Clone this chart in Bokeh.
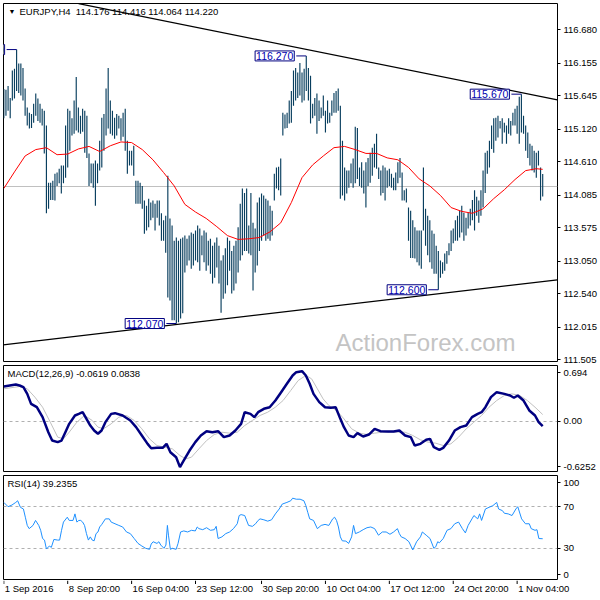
from bokeh.plotting import figure
from bokeh.models import Range1d, LinearAxis, FixedTicker, Label, ColumnDataSource, CustomJSTickFormatter
from bokeh.layouts import column
from bokeh.embed import file_html
from bokeh.resources import INLINE
from bokeh.core.properties import value

# ---------------- data (EURJPY H4) ----------------
highs = [
    115.75, 115.74, 115.80, 115.61, 116.04, 116.07, 116.37, 116.15, 116.15, 116.08,
    115.76, 115.46, 115.38, 115.36, 115.52, 115.68, 115.60, 115.52, 115.44, 115.41,
    115.18, 114.28, 114.28, 114.31, 114.42, 114.44, 114.50, 114.55, 114.55, 115.18,
    115.44, 115.41, 115.29, 115.57, 115.94, 115.46, 115.33, 115.44, 115.41, 115.33,
    114.74, 114.58, 114.58, 114.63, 114.58, 114.94, 115.30, 115.36, 115.76, 116.08,
    115.57, 115.41, 115.30, 115.36, 115.33, 115.29, 115.38, 115.44, 114.94, 114.78,
    114.78, 114.86, 114.31, 114.31, 114.28, 114.23, 114.00, 113.92, 114.03, 113.97,
    114.00, 113.95, 114.00, 114.00, 113.80, 113.69, 113.76, 114.39, 113.72, 113.61,
    113.37, 113.42, 113.37, 113.40, 113.42, 113.45, 113.40, 113.45, 113.50, 113.48,
    113.53, 113.61, 113.56, 113.45, 113.53, 113.50, 113.37, 113.40, 113.29, 113.34,
    113.42, 113.29, 113.06, 113.14, 113.25, 113.42, 113.37, 113.21, 113.29, 113.37,
    113.58, 113.95, 114.19, 114.12, 114.19, 113.61, 114.12, 113.65, 113.56, 113.97,
    114.05, 114.11, 114.08, 114.03, 114.00, 113.92, 113.84, 114.42, 114.52, 114.53,
    114.66, 115.38, 115.35, 115.38, 115.57, 115.72, 116.04, 116.08, 116.01, 116.16,
    116.01, 116.07, 116.27, 116.08, 115.96, 115.52, 115.61, 115.68, 115.57, 115.46,
    115.65, 115.41, 115.57, 115.38, 115.57, 115.69, 115.72, 115.76, 115.49, 114.94,
    114.52, 114.47, 114.47, 114.58, 114.66, 115.16, 115.14, 114.52, 114.60, 114.47,
    114.60, 114.67, 114.75, 114.83, 114.89, 115.05, 114.52, 114.47, 114.55, 114.52,
    114.47, 114.50, 114.42, 114.36, 114.44, 114.60, 114.67, 114.44, 114.16, 114.19,
    113.89, 113.84, 113.69, 113.58, 113.53, 113.53, 113.53, 114.52, 113.87, 113.76,
    113.69, 113.53, 113.48, 113.29, 113.21, 113.06, 113.03, 113.17, 113.21, 113.33,
    113.53, 113.56, 113.69, 113.76, 113.84, 113.92, 113.81, 113.73, 113.81, 113.87,
    114.01, 114.16, 114.06, 114.00, 114.16, 114.47, 114.75, 114.78, 114.94, 115.18,
    115.29, 115.30, 115.33, 115.25, 115.29, 115.22, 115.18, 115.29, 115.25, 115.38,
    115.44, 115.49, 115.63, 115.67, 115.33, 115.18, 115.07, 114.89, 114.86, 114.78,
    114.75, 114.78, 114.52, 114.416,
]
lows = [
    115.29, 115.33, 115.41, 115.29, 115.57, 115.60, 115.72, 115.69, 115.65, 115.57,
    115.33, 115.18, 115.13, 115.14, 115.22, 115.33, 115.25, 115.22, 115.18, 114.74,
    113.80, 113.87, 114.01, 114.01, 114.00, 114.23, 114.27, 114.11, 114.27, 114.36,
    114.52, 114.78, 115.02, 115.05, 115.10, 115.07, 115.05, 115.08, 114.75, 114.67,
    114.23, 114.27, 114.20, 113.92, 114.27, 114.47, 114.52, 114.78, 115.02, 115.13,
    115.05, 115.02, 114.97, 115.02, 115.13, 114.94, 115.00, 114.78, 114.42, 114.55,
    114.55, 114.39, 113.95, 113.95, 113.95, 113.87, 113.48, 113.53, 113.58, 113.69,
    113.73, 113.53, 113.73, 113.61, 113.37, 113.37, 113.18, 112.48, 112.43, 112.12,
    112.12, 112.07, 112.09, 112.15, 112.23, 112.87, 112.98, 113.06, 112.93, 112.98,
    113.06, 113.03, 112.90, 113.14, 113.03, 112.90, 112.98, 112.85, 112.70, 112.79,
    112.95, 112.70, 112.24, 112.46, 112.54, 112.67, 112.90, 112.54, 112.59, 112.70,
    112.87, 113.06, 113.14, 113.21, 113.21, 113.17, 113.14, 112.59, 112.87, 112.98,
    113.21, 113.37, 113.45, 113.37, 113.40, 113.37, 113.45, 114.00, 114.19, 114.16,
    114.08, 115.02, 115.13, 115.14, 115.21, 115.22, 115.49, 115.57, 115.61, 115.65,
    115.54, 115.57, 115.72, 115.57, 115.21, 115.29, 115.33, 115.05, 115.25, 115.29,
    115.33, 115.07, 115.21, 115.22, 115.33, 115.38, 115.38, 115.41, 114.03, 114.08,
    114.00, 114.11, 114.20, 114.27, 114.20, 114.27, 114.34, 114.23, 114.20, 114.11,
    113.89, 114.23, 114.28, 114.39, 114.52, 114.50, 114.34, 114.08, 114.12, 114.00,
    114.20, 114.23, 114.20, 114.16, 114.16, 114.27, 114.36, 114.00, 114.00, 113.97,
    113.37, 113.10, 113.10, 113.09, 113.03, 112.98, 112.93, 113.53, 113.29, 113.14,
    113.03, 112.93, 112.85, 112.85, 112.60, 112.79, 112.85, 112.90, 113.01, 113.14,
    113.21, 113.33, 113.37, 113.37, 113.42, 113.50, 113.37, 113.45, 113.56, 113.61,
    113.69, 113.53, 113.76, 113.65, 113.76, 113.89, 114.12, 114.42, 114.52, 114.81,
    114.75, 114.94, 114.99, 115.13, 114.89, 115.07, 114.89, 115.05, 115.02, 115.18,
    115.18, 115.05, 114.89, 115.07, 115.05, 114.78, 114.67, 114.55, 114.47, 114.44,
    114.36, 114.55, 114.00, 114.064,
]
bar_idx = list(range(len(highs)))

ma_idx = list(range(0, 251, 5)) + [253]
ma_val = [
    114.19, 114.45, 114.70, 114.80, 114.83, 114.72, 114.73, 114.81, 114.85, 114.77,
    114.86, 114.92, 114.91, 114.80, 114.64, 114.44, 114.23, 113.94, 113.82, 113.72,
    113.59, 113.45, 113.39, 113.40, 113.42, 113.51, 113.65, 113.97, 114.36, 114.56,
    114.70, 114.83, 114.85, 114.80, 114.74, 114.74, 114.67, 114.64, 114.52, 114.34,
    114.23, 114.08, 113.89, 113.83, 113.80, 113.87, 114.03, 114.17, 114.33, 114.47,
    114.50, 114.49,
]

macd_idx = [0, 5.6, 7.4, 9.2, 11.0, 12.8, 15.5, 18.2, 20.9, 22.7,
            25.3, 27.1, 28.9, 30.7, 33.4, 35.2, 37.0, 38.8, 40.6, 42.4,
            44.2, 45.9, 47.7, 50.4, 52.2, 55.8, 59.4, 62.1, 64.8, 67.5,
            69.2, 71.9, 74.6, 76.4, 78.2, 80.9, 82.7, 84.5, 87.2, 89.9,
            92.5, 95.2, 97.9, 100.6, 103.3, 106.0, 108.7, 111.4, 113.1, 115.8,
            117.6, 119.4, 122.1, 124.8, 127.5, 130.2, 132.9, 135.6, 137.3, 140.0,
            141.8, 143.6, 145.4, 148.1, 150.8, 153.5, 155.8, 158.0, 159.7, 161.9,
            164.2, 166.0, 168.7, 171.4, 174.1, 176.8, 180.4, 183.0, 185.7, 188.4,
            191.1, 192.9, 195.6, 198.3, 200.1, 201.9, 204.5, 206.3, 209.0, 211.7,
            214.4, 217.1, 219.8, 222.5, 224.3, 226.1, 228.7, 231.4, 235.0, 237.7,
            239.5, 241.3, 244.0, 246.7, 249.4, 251.1, 253]
macd_val = [0.433, 0.458, 0.445, 0.424, 0.341, 0.217, 0.175, 0.051, -0.136, -0.240,
            -0.260, -0.240, -0.136, -0.032, 0.072, 0.092, 0.113, 0.030, -0.053, -0.115,
            -0.156, -0.115, -0.011, 0.092, 0.101, 0.072, 0.010, -0.073, -0.177, -0.281,
            -0.335, -0.331, -0.331, -0.281, -0.385, -0.447, -0.571, -0.488, -0.364, -0.260,
            -0.177, -0.123, -0.136, -0.123, -0.198, -0.177, -0.115, -0.032, 0.113, 0.092,
            0.051, 0.113, 0.155, 0.175, 0.258, 0.362, 0.466, 0.570, 0.611, 0.623,
            0.570, 0.466, 0.341, 0.238, 0.175, 0.167, 0.175, 0.030, -0.073, -0.177,
            -0.198, -0.148, -0.190, -0.165, -0.094, -0.123, -0.127, -0.127, -0.115, -0.177,
            -0.198, -0.302, -0.281, -0.231, -0.219, -0.323, -0.356, -0.331, -0.240, -0.115,
            -0.073, -0.053, 0.051, 0.092, 0.113, 0.175, 0.300, 0.362, 0.341, 0.321,
            0.292, 0.321, 0.258, 0.134, 0.072, -0.011, -0.062]

sig_idx = [0, 7.4, 11.0, 14.6, 18.2, 21.8, 25.3, 28.0, 30.7, 34.3,
           37.9, 41.5, 44.2, 46.8, 50.4, 54.0, 57.6, 61.2, 64.8, 68.4,
           71.9, 75.5, 79.1, 82.7, 85.4, 88.1, 91.6, 95.2, 98.8, 102.4,
           106.0, 109.6, 113.1, 116.7, 120.3, 123.9, 127.5, 131.1, 134.7, 138.2,
           141.8, 144.5, 147.2, 149.9, 152.6, 156.2, 159.7, 163.3, 166.9, 170.5,
           174.1, 177.7, 181.3, 184.8, 188.4, 192.0, 195.6, 199.2, 202.8, 206.3,
           209.9, 213.5, 217.1, 220.7, 224.3, 227.8, 231.4, 235.0, 238.6, 242.2,
           245.8, 249.4, 253]
sig_val = [0.404, 0.433, 0.404, 0.300, 0.175, -0.011, -0.198, -0.219, -0.136, -0.011,
           0.072, 0.010, -0.073, -0.094, -0.032, 0.051, 0.072, 0.010, -0.094, -0.219,
           -0.302, -0.322, -0.343, -0.426, -0.468, -0.447, -0.343, -0.240, -0.165, -0.136,
           -0.148, -0.136, -0.053, 0.010, 0.072, 0.113, 0.175, 0.258, 0.383, 0.507,
           0.570, 0.528, 0.404, 0.279, 0.196, 0.134, 0.030, -0.094, -0.148, -0.165,
           -0.148, -0.136, -0.136, -0.136, -0.136, -0.177, -0.231, -0.260, -0.273, -0.302,
           -0.281, -0.198, -0.094, -0.011, 0.072, 0.175, 0.258, 0.321, 0.341, 0.321,
           0.258, 0.175, 0.084]

rsi_idx = [0, 2.0, 3.8, 5.6, 6.5, 7.8, 9.2, 10.1, 11.0, 11.9,
           13.7, 14.9, 16.4, 17.3, 18.2, 19.1, 20.0, 21.4, 22.3, 23.5,
           25.3, 26.2, 27.1, 28.0, 29.8, 30.7, 32.5, 33.4, 34.3, 35.2,
           36.1, 37.0, 37.9, 38.8, 39.7, 40.6, 41.5, 42.4, 43.3, 44.2,
           45.0, 45.9, 47.7, 49.5, 50.4, 52.2, 54.0, 55.8, 57.6, 59.4,
           61.2, 63.0, 64.8, 66.6, 68.4, 69.2, 70.1, 71.9, 72.8, 73.7,
           75.2, 76.1, 76.8, 77.3, 78.2, 79.1, 80.9, 81.8, 83.0, 84.5,
           86.3, 88.1, 89.9, 90.8, 91.6, 93.4, 95.2, 97.0, 98.8, 99.7,
           100.6, 102.4, 104.2, 106.0, 107.8, 109.6, 110.5, 111.4, 113.1, 114.9,
           116.7, 118.2, 119.4, 120.3, 122.1, 123.9, 125.7, 127.5, 129.3, 130.7,
           132.9, 134.7, 135.6, 137.3, 139.1, 140.9, 141.8, 142.7, 143.6, 145.4,
           147.2, 149.0, 150.8, 152.6, 154.4, 155.3, 156.2, 157.1, 158.0, 158.9,
           160.6, 161.9, 163.3, 164.2, 165.1, 166.9, 168.7, 170.5, 172.3, 174.1,
           175.9, 177.7, 179.5, 181.3, 183.0, 184.8, 185.7, 186.6, 188.4, 190.2,
           192.0, 193.8, 195.6, 196.5, 198.3, 200.1, 201.9, 202.8, 203.7, 204.5,
           206.3, 208.1, 209.9, 211.7, 213.5, 215.3, 216.7, 218.0, 219.8, 220.7,
           222.5, 223.4, 224.3, 226.1, 227.8, 229.6, 231.4, 232.3, 234.1, 235.0,
           236.8, 238.6, 240.4, 241.3, 243.1, 244.9, 246.7, 247.6, 249.4, 250.3,
           251.2, 253]
rsi_val = [74.1, 70.0, 71.6, 74.1, 75.7, 69.4, 67.8, 59.9, 52.0, 48.9,
           52.0, 56.8, 52.0, 47.3, 39.4, 37.9, 29.3, 32.2, 30.9, 38.5,
           37.9, 37.9, 47.3, 55.2, 59.9, 56.8, 56.8, 63.1, 55.2, 56.8,
           56.8, 55.2, 52.0, 44.1, 37.9, 41.0, 37.9, 37.2, 44.1, 45.7,
           50.5, 52.7, 58.3, 58.3, 55.2, 53.6, 52.0, 50.5, 45.7, 44.1,
           39.4, 34.7, 32.2, 30.0, 29.0, 34.1, 36.3, 34.7, 36.3, 33.1,
           30.0, 33.1, 52.0, 42.6, 29.0, 30.0, 29.0, 34.7, 45.7, 46.7,
           45.7, 47.3, 46.7, 50.5, 48.9, 47.9, 49.8, 47.3, 47.9, 51.1,
           39.4, 41.0, 44.1, 45.7, 48.9, 53.6, 61.5, 62.4, 61.5, 52.0,
           51.1, 53.6, 56.8, 58.3, 57.4, 56.1, 57.4, 63.1, 67.8, 72.5,
           74.1, 75.7, 78.2, 77.2, 77.2, 75.7, 71.0, 64.6, 58.3, 56.8,
           48.9, 52.0, 53.0, 52.0, 58.3, 59.9, 56.8, 50.5, 41.0, 37.2,
           36.9, 34.7, 41.0, 52.0, 44.1, 45.7, 47.9, 49.8, 50.5, 48.9,
           42.6, 45.7, 45.7, 43.5, 45.7, 48.9, 44.1, 41.0, 39.4, 36.3,
           28.4, 36.3, 41.0, 45.7, 42.6, 39.4, 30.0, 31.5, 36.3, 35.3,
           39.4, 47.3, 48.9, 53.6, 55.2, 48.9, 44.8, 52.0, 58.3, 61.5,
           58.3, 63.1, 56.8, 67.8, 69.4, 71.0, 74.1, 67.8, 66.2, 63.7,
           63.1, 61.5, 67.8, 70.0, 58.3, 53.6, 53.6, 48.9, 47.3, 47.9,
           39.4, 39.2]

price_ticks = [116.680, 116.155, 115.645, 115.120, 114.610, 114.085,
               113.575, 113.050, 112.540, 112.015, 111.505]
time_tick_idx = [0, 30, 60, 90, 121, 151, 181, 211, 241]
time_tick_labels = ["1 Sep 2016", "8 Sep 20:00", "16 Sep 04:00", "23 Sep 12:00",
                    "30 Sep 20:00", "10 Oct 04:00", "17 Oct 12:00", "24 Oct 20:00",
                    "1 Nov 04:00"]

swing_idx = [6, 142, 243, 81, 204]
swing_price = [116.37, 116.27, 115.67, 112.07, 112.60]
swing_text = ["116.370", "116.270", "115.670", "112.070", "112.600"]

upper_trend_idx = [35.1, 259.9]
upper_trend_price = [117.09, 115.58]
lower_trend_idx = [-0.3, 259.9]
lower_trend_price = [111.736, 112.755]

symbol = "EURJPY,H4"
last_open, last_high, last_low, last_close = 114.176, 114.416, 114.064, 114.220
macd_last, signal_last = -0.0619, 0.0838
rsi_last = 39.2355
macd_lo, macd_hi = -0.6252, 0.694
rsi_levels = [70, 30]
watermark_idx, watermark_price = 155.7, 111.77

# ---------------- styling / layout ----------------
FONT = "Liberation Sans"
FS = "9.5px"
BAR_COLOR = "#083e5e"
FRAME_W = 554
X0, X1 = -0.15, 259.95
PXB = FRAME_W / (X1 - X0)          # pixels per bar
PRICE_LO, PRICE_HI = 111.474, 117.093

xr = Range1d(X0, X1)


def panel(y_lo, y_hi, fh, top, bottom):
    p = figure(frame_width=FRAME_W, frame_height=fh, x_range=xr,
               y_range=Range1d(y_lo, y_hi), x_axis_location=None,
               y_axis_location=None, toolbar_location=None,
               output_backend="svg", title=None,
               min_border_left=3, min_border_right=0,
               min_border_top=top, min_border_bottom=bottom)
    p.grid.visible = False
    p.outline_line_color = "black"
    p.outline_line_width = 1
    p.background_fill_color = "white"
    p.border_fill_color = "white"
    return p


def right_axis(p, ticks, labels):
    ax = LinearAxis(ticker=FixedTicker(ticks=ticks, minor_ticks=[]),
                    formatter=CustomJSTickFormatter(args=dict(labels=labels),
                                                    code="return labels[index];"))
    ax.axis_line_color = None
    ax.major_tick_in = 0
    ax.major_tick_out = 3
    ax.minor_tick_in = 0
    ax.minor_tick_out = 0
    ax.major_tick_line_color = "black"
    ax.major_label_standoff = 3
    ax.major_label_text_font = FONT
    ax.major_label_text_font_size = FS
    ax.major_label_text_color = "black"
    p.add_layout(ax, "right")


def text_label(p, x, y, txt, xo, yo, size=FS, color="black", **kw):
    p.add_layout(Label(x=x, y=y, x_offset=xo, y_offset=yo, text=txt,
                       text_font=FONT, text_font_size=size, text_color=color,
                       text_baseline=kw.pop("baseline", "middle"), **kw))


# ---- main price panel ----
main = panel(PRICE_LO, PRICE_HI, 358, 3, 4)
main.hspan(y=[last_close], line_color="#c0c0c0", line_width=1)
src = ColumnDataSource(dict(i=bar_idx, high=highs, low=lows))
main.segment(x0="i", y0="low", x1="i", y1="high", source=src,
             line_color=BAR_COLOR, line_width=1.15)
main.line(ma_idx, ma_val, line_color="#ff0000", line_width=1)
main.line(upper_trend_idx, upper_trend_price, line_color="black", line_width=1.2)
main.line(lower_trend_idx, lower_trend_price, line_color="black", line_width=1.2)

conn_gap = 10 / PXB
main.segment(x0=[i - conn_gap for i in swing_idx], y0=swing_price,
             x1=swing_idx, y1=swing_price, line_color="#000080", line_width=1)
for i, pr, t in zip(swing_idx, swing_price, swing_text):
    main.add_layout(Label(x=i, y=pr, x_offset=-12, text=t, text_align="right",
                          text_baseline="middle", text_font=FONT,
                          text_font_size="10.5px", text_color="#0000b0",
                          background_fill_color="white",
                          border_line_color="#000080", border_line_width=1,
                          padding=1))

main.add_layout(Label(x=X1, y=last_close, x_offset=3, text=f"{last_close:.3f}",
                      text_align="left", text_baseline="middle", text_font=FONT,
                      text_font_size=FS, text_color="white",
                      background_fill_color="black", padding=2))

text_label(main, X0, PRICE_HI, "\u25BC", 5, -8, size="7px")
text_label(main, X0, PRICE_HI,
           f"{symbol}\u00a0\u00a0{last_open:.3f} {last_high:.3f} {last_low:.3f} {last_close:.3f}",
           16, -8)
text_label(main, watermark_idx, watermark_price, "ActionForex.com", 0, 0,
           size="24px", color="#c4c4c4", baseline="alphabetic")
right_axis(main, price_ticks, [f"{t:.3f}" for t in price_ticks])

# ---- MACD panel ----
MACD_FH = 106
macd = panel(macd_lo, macd_hi, MACD_FH, 0, 2)
macd.hspan(y=[0], line_color="#b0b0b0", line_width=1, line_dash="3 3")
macd.line(sig_idx, sig_val, line_color="#c0c0c0", line_width=1)
macd.line(macd_idx, macd_val, line_color="#000080", line_width=2.5)
text_label(macd, X0, macd_hi, f"MACD(12,26,9) {macd_last:.4f} {signal_last:.4f}", 4, -8)
upp = (macd_hi - macd_lo) / MACD_FH
right_axis(macd, [macd_hi - 7 * upp, 0.0, macd_lo + 5 * upp],
           [f"{macd_hi:.3f}", "0.00", f"{macd_lo:.4f}"])

# ---- RSI panel ----
RSI_FH = 104
rsi = panel(0, 100, RSI_FH, 2, 1)
rsi.hspan(y=rsi_levels, line_color="#b0b0b0", line_width=1, line_dash="3 3")
rsi.line(rsi_idx, rsi_val, line_color="#1e90ff", line_width=1)
text_label(rsi, X0, 100, f"RSI(14) {rsi_last:.4f}", 4, -8)
upp_r = 100 / RSI_FH
right_axis(rsi, [100 - 7 * upp_r, 70, 30, 5 * upp_r], ["100", "70", "30", "0"])

# ---- time axis strip ----
TW = 597
tf = figure(frame_width=TW, frame_height=20, x_range=Range1d(X0, X0 + TW / PXB),
            y_range=Range1d(0, 20), x_axis_location=None, y_axis_location=None,
            toolbar_location=None, output_backend="svg", title=None,
            min_border_left=3, min_border_right=0, min_border_top=0, min_border_bottom=0)
tf.grid.visible = False
tf.outline_line_color = None
tf.segment(x0=time_tick_idx, y0=20, x1=time_tick_idx, y1=16.5, line_color="black")
tf.text(x=time_tick_idx, y=12, text=time_tick_labels, x_offset=1,
        text_font=value(FONT), text_font_size=value(FS), text_color="black",
        text_align="left", text_baseline="middle")

layout = column(main, macd, rsi, tf, spacing=0)
open("out.html", "w").write(file_html(layout, INLINE))
